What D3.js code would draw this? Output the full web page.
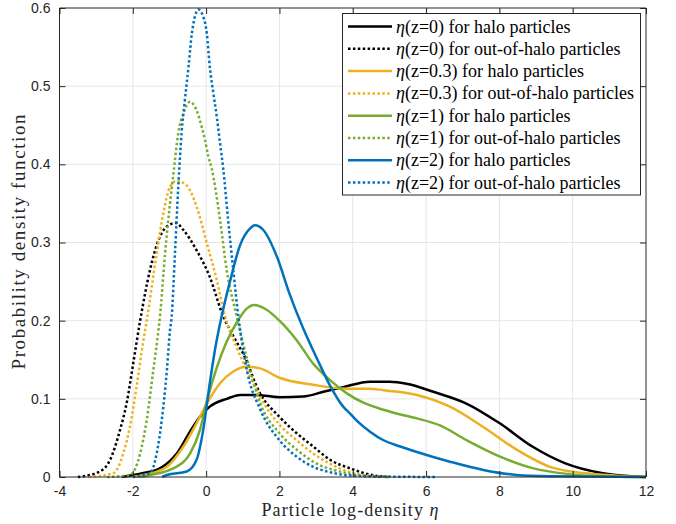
<!DOCTYPE html>
<html>
<head>
<meta charset="utf-8">
<script src="https://cdn.jsdelivr.net/npm/d3@7/dist/d3.min.js"></script>
<style>
  html, body { margin: 0; padding: 0; background: #ffffff; }
  svg { display: block; }
</style>
</head>
<body>
<svg id="chart" width="676" height="524"></svg>
<script>
// ---------- data ----------
const xTicks = [-4, -2, 0, 2, 4, 6, 8, 10, 12];
const xTickLabels = ["-4", "-2", "0", "2", "4", "6", "8", "10", "12"];
const yTicks = [0, 0.1, 0.2, 0.3, 0.4, 0.5, 0.6];
const yTickLabels = ["0", "0.1", "0.2", "0.3", "0.4", "0.5", "0.6"];

const haloZ0 = [[-2.3,0],[-2.0,0.0026],[-1.6,0.006],[-1.26,0.011],[-1.0,0.02],[-0.8,0.03],[-0.44,0.058],[-0.17,0.077],[0.1,0.09],[0.56,0.1],[0.93,0.105],[1.38,0.105],[2.0,0.102],[2.65,0.103],[3.2,0.109],[3.74,0.115],[4.47,0.122],[5.0,0.122],[5.5,0.119],[6.2,0.109],[7.1,0.094],[8.0,0.069],[8.9,0.039],[9.8,0.0175],[10.75,0.0055],[11.6,0.001],[12,0]];
const outZ0 = [[-3.5,0],[-2.9,0.007],[-2.62,0.022],[-2.35,0.06],[-2.17,0.094],[-1.99,0.145],[-1.8,0.2],[-1.53,0.265],[-1.3,0.303],[-1.03,0.322],[-0.82,0.325],[-0.62,0.316],[-0.26,0.29],[0.1,0.256],[0.43,0.21],[0.84,0.172],[1.01,0.158],[1.47,0.107],[2.0,0.077],[2.47,0.056],[2.92,0.039],[3.38,0.022],[3.93,0.011],[4.47,0.003],[5.0,0]];
const haloZ03 = [[-2.0,0],[-1.71,0.0026],[-1.4,0.006],[-1.07,0.013],[-0.62,0.039],[-0.26,0.069],[0.02,0.094],[0.38,0.12],[0.74,0.135],[1.1,0.141],[1.47,0.139],[2.0,0.127],[2.92,0.118],[3.84,0.113],[4.47,0.113],[4.84,0.111],[5.75,0.105],[6.65,0.09],[7.56,0.064],[8.47,0.035],[9.38,0.013],[10.3,0.005],[11.2,0.0017],[12,0]];
const outZ03 = [[-3.2,0],[-2.53,0.005],[-2.26,0.03],[-2.08,0.064],[-1.9,0.115],[-1.71,0.175],[-1.62,0.2],[-1.35,0.286],[-1.17,0.337],[-0.985,0.371],[-0.8,0.379],[-0.53,0.373],[-0.26,0.346],[0.02,0.299],[0.29,0.252],[0.52,0.205],[0.84,0.165],[1.29,0.12],[1.47,0.103],[2.0,0.067],[2.47,0.047],[2.92,0.03],[3.38,0.017],[3.93,0.006],[4.6,0.001],[5.0,0]];
const haloZ1 = [[-1.8,0],[-1.53,0.0026],[-0.9,0.011],[-0.44,0.03],[-0.17,0.06],[0.02,0.097],[0.29,0.14],[0.56,0.173],[0.84,0.198],[1.1,0.215],[1.3,0.22],[1.65,0.214],[2.0,0.2],[2.47,0.175],[2.92,0.145],[3.38,0.124],[3.84,0.107],[4.29,0.095],[4.84,0.086],[5.3,0.08],[5.75,0.075],[6.38,0.066],[7.11,0.047],[8.02,0.026],[8.93,0.011],[9.84,0.004],[10.75,0.001],[12,0]];
const outZ1 = [[-2.7,0],[-2.08,0.0026],[-1.8,0.03],[-1.62,0.073],[-1.44,0.137],[-1.3,0.188],[-1.26,0.205],[-1.12,0.286],[-0.985,0.35],[-0.88,0.393],[-0.76,0.44],[-0.62,0.465],[-0.44,0.48],[-0.26,0.469],[-0.12,0.448],[-0.03,0.431],[0.06,0.41],[0.15,0.395],[0.38,0.329],[0.56,0.265],[0.84,0.205],[1.1,0.154],[1.47,0.095],[2.0,0.056],[2.47,0.035],[3.02,0.017],[3.56,0.008],[4.2,0.002],[4.8,0]];
const haloZ2 = [[-1.2,0],[-1.07,0.0026],[-0.53,0.007],[-0.26,0.022],[-0.08,0.06],[0.1,0.12],[0.25,0.165],[0.42,0.205],[0.65,0.25],[0.93,0.297],[1.2,0.318],[1.33,0.322],[1.56,0.316],[1.93,0.282],[2.27,0.235],[2.65,0.19],[3.02,0.152],[3.38,0.117],[3.74,0.09],[3.93,0.081],[4.11,0.072],[4.47,0.058],[4.84,0.047],[5.3,0.039],[5.75,0.032],[6.65,0.0196],[7.56,0.009],[8.47,0.0026],[9.38,0.001],[12,0]];
const outZ2 = [[-2.0,0],[-1.53,0.005],[-1.35,0.03],[-1.21,0.073],[-1.07,0.137],[-0.985,0.188],[-0.94,0.205],[-0.85,0.286],[-0.76,0.371],[-0.67,0.44],[-0.58,0.482],[-0.48,0.525],[-0.39,0.567],[-0.21,0.598],[-0.08,0.589],[0.02,0.567],[0.1,0.525],[0.2,0.49],[0.29,0.461],[0.38,0.427],[0.47,0.393],[0.6,0.329],[0.74,0.265],[0.88,0.205],[1.11,0.137],[1.47,0.087],[2.0,0.047],[2.47,0.026],[2.92,0.013],[3.38,0.006],[3.93,0.002],[5.0,0.0005],[6.3,0]];

const seriesZ = ["0", "0.3", "1", "2"];
const seriesColors = ["#000000", "#EDB120", "#77AC30", "#0072BD"];
const haloData = [haloZ0, haloZ03, haloZ1, haloZ2];
const outData = [outZ0, outZ03, outZ1, outZ2];

// ---------- layout ----------
const svg = d3.select("#chart");
const L = 59.5, R = 646, T = 8, B = 477;
const x = d3.scaleLinear().domain([-4, 12]).range([L, R]);
const y = d3.scaleLinear().domain([0, 0.6]).range([B, T]);
const axisColor = "#262626";
const tickFont = "'Liberation Sans', Arial, Helvetica, sans-serif";
const serif = "'Liberation Serif', 'Times New Roman', Times, serif";

// grid
const grid = svg.append("g");
grid.selectAll("line.gx").data(xTicks.slice(1, -1)).join("line")
  .attr("x1", d => x(d)).attr("x2", d => x(d)).attr("y1", T).attr("y2", B)
  .attr("stroke", "#e6e6e6").attr("stroke-width", 1);
grid.selectAll("line.gy").data(yTicks.slice(1, -1)).join("line")
  .attr("x1", L).attr("x2", R).attr("y1", d => y(d)).attr("y2", d => y(d))
  .attr("stroke", "#e6e6e6").attr("stroke-width", 1);

// curves
const line = d3.line().x(d => x(d[0])).y(d => y(d[1])).curve(d3.curveMonotoneX);
const curves = svg.append("g");
seriesZ.forEach((z, i) => {
  curves.append("path").datum(haloData[i])
    .attr("d", line).attr("fill", "none")
    .attr("stroke", seriesColors[i]).attr("stroke-width", 2.5)
    .attr("stroke-linejoin", "round");
  curves.append("path").datum(outData[i])
    .attr("d", line).attr("fill", "none")
    .attr("stroke", seriesColors[i]).attr("stroke-width", 2.5)
    .attr("stroke-dasharray", "2.5,2.4");
});

// axes (MATLAB-like box with inward ticks)
const xAxisB = d3.axisBottom(x).tickValues(xTicks).tickSize(-6).tickPadding(9).tickFormat((d, i) => xTickLabels[i]);
const xAxisT = d3.axisTop(x).tickValues(xTicks).tickSize(-6).tickFormat("");
const yAxisL = d3.axisLeft(y).tickValues(yTicks).tickSize(-6).tickPadding(9).tickFormat((d, i) => yTickLabels[i]);
const yAxisR = d3.axisRight(y).tickValues(yTicks).tickSize(-6).tickFormat("");

function styleAxis(g) {
  g.select(".domain").attr("stroke", axisColor).attr("stroke-width", 1);
  g.selectAll(".tick line").attr("stroke", axisColor).attr("stroke-width", 1);
  g.selectAll(".tick text").attr("fill", axisColor)
    .style("font-family", tickFont).style("font-size", "14px");
}
svg.append("g").attr("transform", `translate(0,${B})`).call(xAxisB).call(styleAxis)
  .call(g => g.select(".domain").attr("d", `M${L},0H${R}`));
svg.append("g").attr("transform", `translate(0,${T})`).call(xAxisT).call(styleAxis)
  .call(g => g.select(".domain").attr("d", `M${L},0H${R}`));
svg.append("g").attr("transform", `translate(${L},0)`).call(yAxisL).call(styleAxis)
  .call(g => g.select(".domain").attr("d", `M0,${T}V${B}`));
svg.append("g").attr("transform", `translate(${R},0)`).call(yAxisR).call(styleAxis)
  .call(g => g.select(".domain").attr("d", `M0,${T}V${B}`));

// axis labels
const xl = svg.append("text")
  .attr("x", 350).attr("y", 516).attr("text-anchor", "middle")
  .style("font-family", serif).style("font-size", "18px").attr("fill", axisColor)
  .attr("textLength", 177).attr("lengthAdjust", "spacing");
xl.append("tspan").text("Particle log-density ");
xl.append("tspan").attr("font-style", "italic").text("η");

svg.append("text")
  .attr("transform", "translate(25,242) rotate(-90)")
  .attr("text-anchor", "middle")
  .style("font-family", serif).style("font-size", "19px").attr("fill", axisColor)
  .attr("textLength", 255).attr("lengthAdjust", "spacing")
  .text("Probability density function");

// legend
const lg = svg.append("g");
lg.append("rect").attr("x", 342.5).attr("y", 13.5).attr("width", 298).attr("height", 181.5)
  .attr("fill", "#ffffff").attr("stroke", axisColor).attr("stroke-width", 1);
const rowY0 = 26.5, rowStep = 22.3;
let row = 0;
seriesZ.forEach((z, i) => {
  [["halo particles", null], ["out-of-halo particles", "2.5,2.4"]].forEach(([lab, dash]) => {
    const yy = rowY0 + row * rowStep;
    const ln = lg.append("line").attr("x1", 348).attr("x2", 392).attr("y1", yy).attr("y2", yy)
      .attr("stroke", seriesColors[i]).attr("stroke-width", 2.5);
    if (dash) ln.attr("stroke-dasharray", dash);
    const t = lg.append("text").attr("x", 396).attr("y", yy + 6)
      .style("font-family", serif).style("font-size", "18px").attr("fill", "#000");
    t.append("tspan").attr("font-style", "italic").text("η");
    t.append("tspan").text(`(z=${z}) for ${lab}`);
    row++;
  });
});
</script>
</body>
</html>
